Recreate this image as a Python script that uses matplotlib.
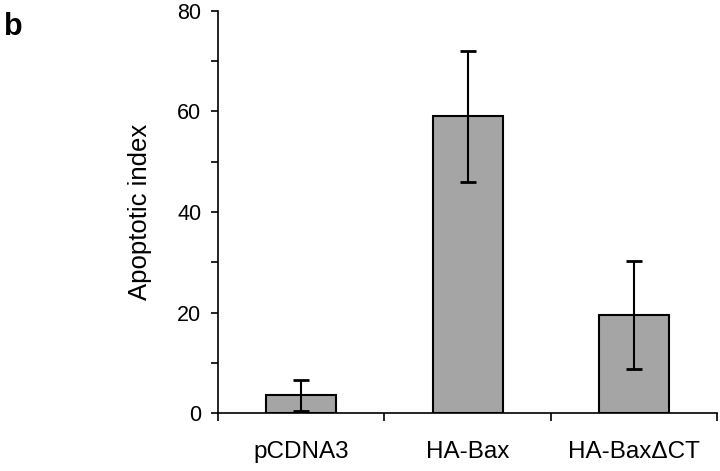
import matplotlib
matplotlib.use('Agg')
import matplotlib.pyplot as plt
import numpy as np

plt.rcParams['font.family'] = ['Liberation Sans', 'DejaVu Sans']

groups = ['pCDNA3', 'HA-Bax', 'HA-Bax\u0394CT']
index_mean = [3.5, 59.0, 19.5]
index_err = [3.1, 13.0, 10.8]

fig = plt.figure(figsize=(7.2, 4.71), dpi=100)
ax = fig.add_axes([0.303, 0.123, 0.693, 0.854])

x = np.arange(len(groups))
ax.bar(x, index_mean, width=0.42, color='#a5a5a5', edgecolor='black',
       linewidth=1.5, zorder=2)
ax.errorbar(x, index_mean, yerr=index_err, fmt='none', ecolor='black',
            elinewidth=1.5, capsize=6, capthick=2, zorder=3)

ax.set_xlim(-0.5, len(groups) - 0.5)
ax.set_ylim(0, 80)

# boundary ticks between groups, labels centred under bars
ax.set_xticks(np.arange(len(groups) + 1) - 0.5)
ax.set_xticklabels([])
ax.set_xticks(x, minor=True)
ax.set_xticklabels(groups, minor=True, fontsize=17.5)
ax.tick_params(axis='x', which='minor', length=0, pad=20)
ax.tick_params(axis='x', which='major', length=6, width=1.2, direction='out')

ax.set_yticks(np.arange(0, 81, 20))
ax.set_yticks(np.arange(10, 80, 20), minor=True)
ax.tick_params(axis='y', which='both', length=5, width=1.2, labelsize=15.5, pad=7)

for s in ['top', 'right']:
    ax.spines[s].set_visible(False)
for s in ['left', 'bottom']:
    ax.spines[s].set_linewidth(1.2)

ax.set_ylabel('Apoptotic index', fontsize=18.5, labelpad=18)

fig.text(0.005, 0.975, 'b', fontsize=22, fontweight='bold', va='top')

fig.savefig('out.png', dpi=100)
